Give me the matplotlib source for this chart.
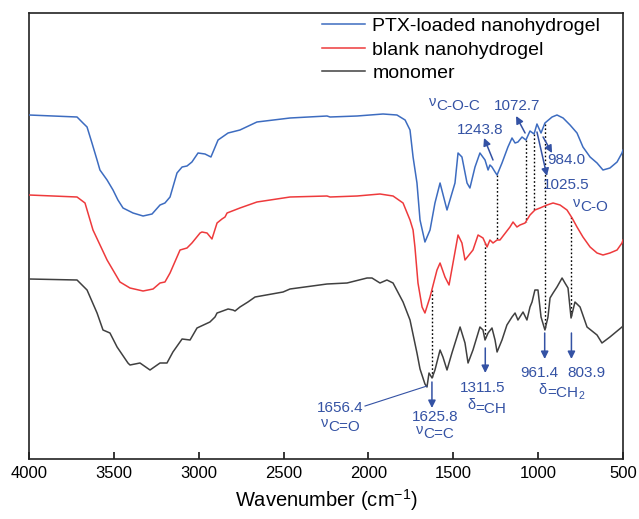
import numpy as np
import matplotlib
matplotlib.use("Agg")
import matplotlib.pyplot as plt

plt.rcParams['font.family'] = ['Liberation Sans', 'DejaVu Sans']
plt.rcParams['mathtext.fontset'] = 'custom'
plt.rcParams['mathtext.rm'] = 'Liberation Sans'
plt.rcParams['mathtext.it'] = 'Liberation Sans'
plt.rcParams['mathtext.bf'] = 'Liberation Sans:bold'

# ---------------- data (wavenumber in cm-1, transmittance a.u., offset stacked) ----------------
ptx_w = [4000, 3717, 3682, 3658, 3629, 3599, 3582, 3540, 3505, 3476, 3446, 3387, 3328, 3275,
         3228, 3199, 3169, 3128, 3098, 3069, 3040, 3004, 2963, 2928, 2886, 2827, 2757, 2657,
         2462, 2244, 2226, 2067, 1914, 1832, 1784, 1755, 1737, 1714, 1696, 1667, 1637, 1608,
         1578, 1537, 1490, 1472, 1449, 1419, 1402, 1372, 1343, 1313, 1295, 1284, 1272, 1254,
         1242, 1213, 1178, 1154, 1136, 1119, 1095, 1072, 1048, 1024, 1007, 983, 960, 918, 889,
         853, 812, 771, 736, 694, 653, 618, 577, 535, 506, 500]
ptx_t = [342, 340, 334, 330, 314, 297, 287, 277, 267, 257, 249, 244, 241, 243,
         252, 254, 260, 284, 290, 291, 295, 304, 303, 300, 317, 324, 327, 335,
         339, 341, 340, 341, 343, 342, 337, 327, 300, 274, 237, 215, 227, 254,
         274, 247, 274, 304, 300, 274, 269, 290, 304, 297, 287, 292, 290, 285,
         282, 294, 310, 319, 314, 315, 320, 317, 326, 323, 333, 324, 334, 340, 342,
         339, 332, 324, 310, 300, 294, 287, 289, 295, 304, 307]

blank_w = [4000, 3717, 3670, 3623, 3540, 3464, 3405, 3328, 3269, 3228, 3199, 3169, 3110, 3069,
           3040, 2992, 2981, 2951, 2922, 2892, 2863, 2845, 2833, 2757, 2657, 2462, 2244, 2226,
           2067, 1932, 1855, 1796, 1755, 1737, 1726, 1708, 1684, 1667, 1637, 1596, 1578, 1549,
           1525, 1472, 1449, 1431, 1384, 1354, 1325, 1301, 1284, 1266, 1242, 1225, 1166, 1148,
           1125, 1107, 1077, 1048, 1019, 989, 948, 912, 871, 830, 800, 771, 736, 694, 653, 618,
           577, 535, 506, 500]
blank_t = [262, 260, 254, 227, 197, 175, 169, 166, 168, 174, 175, 184, 207, 209,
           214, 224, 225, 224, 218, 234, 238, 240, 244, 249, 255, 260, 261, 260,
           261, 263, 261, 254, 237, 227, 210, 174, 150, 144, 160, 187, 194, 180,
           172, 222, 214, 197, 207, 222, 219, 210, 217, 214, 217, 217, 230, 235,
           230, 232, 234, 242, 247, 249, 252, 254, 252, 247, 239, 230, 220, 210, 204, 202,
           204, 207, 214, 217]

mono_w = [4000, 3717, 3658, 3599, 3564, 3523, 3481, 3417, 3405, 3346, 3287, 3228, 3187, 3152,
          3098, 3051, 3010, 2934, 2904, 2892, 2875, 2827, 2798, 2786, 2757, 2710, 2668, 2503,
          2462, 2244, 2126, 2008, 1979, 1932, 1891, 1855, 1796, 1755, 1714, 1696, 1667, 1655,
          1643, 1625, 1608, 1578, 1561, 1537, 1508, 1460, 1431, 1413, 1384, 1343, 1325, 1313,
          1295, 1272, 1254, 1242, 1213, 1184, 1154, 1136, 1119, 1089, 1066, 1048, 1036, 1019,
          1001, 983, 960, 942, 930, 912, 889, 859, 842, 824, 806, 783, 753, 712, 653, 624,
          577, 506, 500]
mono_t = [178, 177, 167, 144, 127, 124, 110, 94, 92, 94, 87, 94, 94, 105,
          118, 117, 129, 135, 140, 144, 145, 148, 147, 146, 150, 155, 160, 165,
          168, 173, 174, 179, 179, 174, 177, 174, 155, 137, 104, 88, 73, 70,
          84, 79, 87, 107, 100, 87, 104, 130, 114, 94, 107, 130, 127, 117,
          124, 129, 117, 105, 117, 132, 140, 144, 137, 145, 137, 150, 155, 167,
          167, 140, 127, 140, 159, 164, 170, 179, 174, 169, 139, 155, 150, 130, 122, 114,
          120, 130, 131]

series_names = ['PTX-loaded nanohydrogel', 'blank nanohydrogel', 'monomer']
series_colors = ['#3D6CC0', '#EE3A3C', '#404040']

# dotted guide lines: wavenumber, upper curve index, lower curve index
guide_w = [1625.8, 1311.5, 1243.8, 1072.7, 1025.5, 961.4, 803.9]
guide_from = [1, 1, 0, 0, 0, 0, 1]
guide_to = [2, 2, 1, 1, 1, 2, 2]

ANN = '#3452A4'

fig = plt.figure(figsize=(6.39, 5.19), dpi=100)
ax = fig.add_axes([29/639, 1-459/519, 594/639, 446/519])

data = [(ptx_w, ptx_t), (blank_w, blank_t), (mono_w, mono_t)]
for (w, t), name, c in zip(data, series_names, series_colors):
    ax.plot(w, t, color=c, lw=1.1, label=name, zorder=3)

def curve_at(i, x):
    w, t = data[i]
    return np.interp(x, w[::-1], t[::-1])

for x, a, b in zip(guide_w, guide_from, guide_to):
    ax.plot([x, x], [curve_at(a, x), curve_at(b, x)], color='black', lw=1.0,
            ls=(0, (1.2, 1.6)), zorder=2)

ax.set_xlim(4000, 500)
ax.set_ylim(-2, 444)
ax.set_xticks([4000, 3500, 3000, 2500, 2000, 1500, 1000, 500])
ax.set_yticks([])
ax.tick_params(axis='x', direction='in', length=5, width=1.1, labelsize=12, pad=5,
               top=False)
for s in ax.spines.values():
    s.set_linewidth(1.2)
    s.set_color('#222222')
ax.set_xlabel('Wavenumber (cm$^{-1}$)', fontsize=14.5, labelpad=4.5)

# ---------------- annotations ----------------
fs = 11
arrow_kw = dict(arrowstyle='-|>', color=ANN, lw=1.1, mutation_scale=11, shrinkA=0, shrinkB=0)

def arrow(x0, y0, x1, y1):
    ax.annotate('', xy=(x1, y1), xytext=(x0, y0), arrowprops=arrow_kw, zorder=4)

def label(x, y, s, size=fs):
    ax.text(x, y, s, color=ANN, fontsize=size, ha='center', va='center', zorder=5)

def glabel(x, y, greek, rest):
    ax.annotate(greek, xy=(x, y), xytext=(0, 3.0), textcoords='offset points',
                ha='right', va='baseline', fontsize=10.5, color=ANN, zorder=5)
    ax.text(x, y, rest, ha='left', va='baseline', fontsize=fs, color=ANN, zorder=5)

glabel(1602, 347, 'ν', 'C-O-C')
label(1343, 327, '1243.8')
arrow(1266, 297, 1319, 319)
label(1125, 351, '1072.7')
arrow(1077, 324, 1130, 341)
label(836, 297, '984.0')
arrow(971, 320, 918, 304)
label(836, 272, '1025.5')
arrow(1007, 325, 948, 281)
glabel(753, 246, 'ν', 'C-O')

label(2167, 49, '1656.4')
glabel(2238, 26, 'ν', 'C=O')
ax.plot([2020, 1655], [51, 71], color=ANN, lw=0.8, zorder=4)

label(1608, 40, '1625.8')
glabel(1678, 19, 'ν', 'C=C')
arrow(1625.8, 75, 1625.8, 49)

label(1325, 69, '1311.5')
glabel(1372, 44, 'δ', '=CH')
arrow(1311.5, 109, 1311.5, 84)

label(995, 84, '961.4')
arrow(961.4, 124, 961.4, 98)
label(718, 84, '803.9')
arrow(803.9, 124, 803.9, 98)
glabel(948, 59, 'δ', '=CH$_{2}$')

leg = ax.legend(loc='upper left', bbox_to_anchor=(0.493, 0.99), frameon=False,
                fontsize=14, handlelength=2.2, handletextpad=0.4, labelspacing=0.3,
                borderpad=0, borderaxespad=0)

fig.savefig('out.png', dpi=100)
